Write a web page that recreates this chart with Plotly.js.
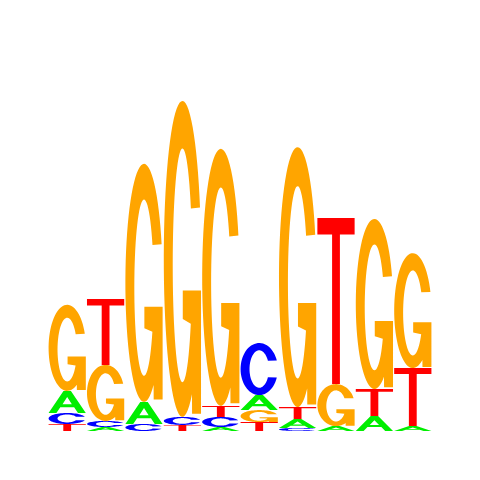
<!DOCTYPE html>
<html>
<head>
<meta charset="utf-8">
<script src="https://cdn.plot.ly/plotly-3.0.1.min.js"></script>
<style>
  html, body { margin: 0; padding: 0; background: #fff; }
  #chart { width: 480px; height: 480px; }
</style>
</head>
<body>
<div id="chart"></div>
<script>
// positions in the motif and information (bits) per base
const positions = [1, 2, 3, 4, 5, 6, 7, 8, 9, 10]
const bases = ['A', 'C', 'G', 'T']
const bitsA = [0.116, 0.021, 0.116, 0.000, 0.021, 0.079, 0.047, 0.026, 0.079, 0.026]
const bitsC = [0.058, 0.032, 0.037, 0.042, 0.053, 0.274, 0.016, 0.000, 0.000, 0.000]
const bitsG = [0.453, 0.295, 1.253, 1.663, 1.353, 0.063, 1.368, 0.221, 0.895, 0.605]
const bitsT = [0.037, 0.347, 0.000, 0.032, 0.058, 0.047, 0.063, 0.874, 0.142, 0.305]

const baseColors = { A: '#00ee00', C: '#0000ff', G: '#ffa500', T: '#ff0000' }
const bitsByBase = { A: bitsA, C: bitsC, G: bitsG, T: bitsT }

// glyph outlines in a unit box (u right, v up)
const arc = (cx, cy, rx, ry, a0, a1, n) => {
  const pts = []
  for (let i = 0; i <= n; i++) {
    const a = (a0 + (a1 - a0) * i / n) * Math.PI / 180
    pts.push([cx + rx * Math.cos(a), cy + ry * Math.sin(a)])
  }
  return pts
}

const glyphs = {
  A: [
    [[0, 0], [0.21, 0], [0.314, 0.26], [0.686, 0.26], [0.79, 0], [1, 0], [0.6, 1], [0.4, 1]],
    [[0.375, 0.40], [0.5, 0.72], [0.625, 0.40]],
  ],
  T: [
    [[0.395, 0], [0.605, 0], [0.605, 0.9], [1, 0.9], [1, 1], [0, 1], [0, 0.9], [0.395, 0.9]],
  ],
  C: [
    [...arc(0.5, 0.5, 0.5, 0.5, 19, 341, 60), ...arc(0.5, 0.5, 0.26, 0.36, 334, 26, 60)],
  ],
  G: [
    [
      ...arc(0.5, 0.5, 0.5, 0.5, 19, 301, 60),
      [0.76, 0.01], [1, 0.01], [1, 0.40], [0.51, 0.40], [0.51, 0.31],
      ...arc(0.5, 0.48, 0.26, 0.37, 330, 29, 60),
    ],
  ],
}

const glyphPath = (base, x0, w, y0, h) =>
  glyphs[base].map(poly =>
    'M' + poly.map(([u, v]) => `${(x0 + u * w).toFixed(4)},${(y0 + v * h).toFixed(5)}`).join('L') + 'Z'
  ).join(' ')

const letterWidth = 0.97
const shapes = []

positions.forEach((pos, i) => {
  const stack = bases
    .map(b => ({ base: b, bits: bitsByBase[b][i] }))
    .filter(d => d.bits > 0)
    .sort((a, b) => a.bits - b.bits)
  let y = 0
  stack.forEach(d => {
    shapes.push({
      type: 'path',
      xref: 'x',
      yref: 'y',
      path: glyphPath(d.base, pos - letterWidth / 2, letterWidth, y, d.bits),
      fillcolor: baseColors[d.base],
      line: { width: 0 },
      layer: 'above',
    })
    y += d.bits
  })
})

const data = [{
  x: positions,
  y: positions.map(() => 0),
  mode: 'none',
  type: 'scatter',
  hoverinfo: 'skip',
  showlegend: false,
}]

const layout = {
  width: 480,
  height: 480,
  showlegend: false,
  paper_bgcolor: '#ffffff',
  plot_bgcolor: '#ffffff',
  margin: { l: 48, r: 48, t: 51, b: 49 },
  xaxis: { range: [0.5, 10.5], visible: false, fixedrange: true },
  yaxis: { range: [0, 2], visible: false, fixedrange: true },
  shapes,
}

const config = {
  staticPlot: true,
  displayModeBar: false,
}

Plotly.newPlot('chart', data, layout, config)
</script>
</body>
</html>
